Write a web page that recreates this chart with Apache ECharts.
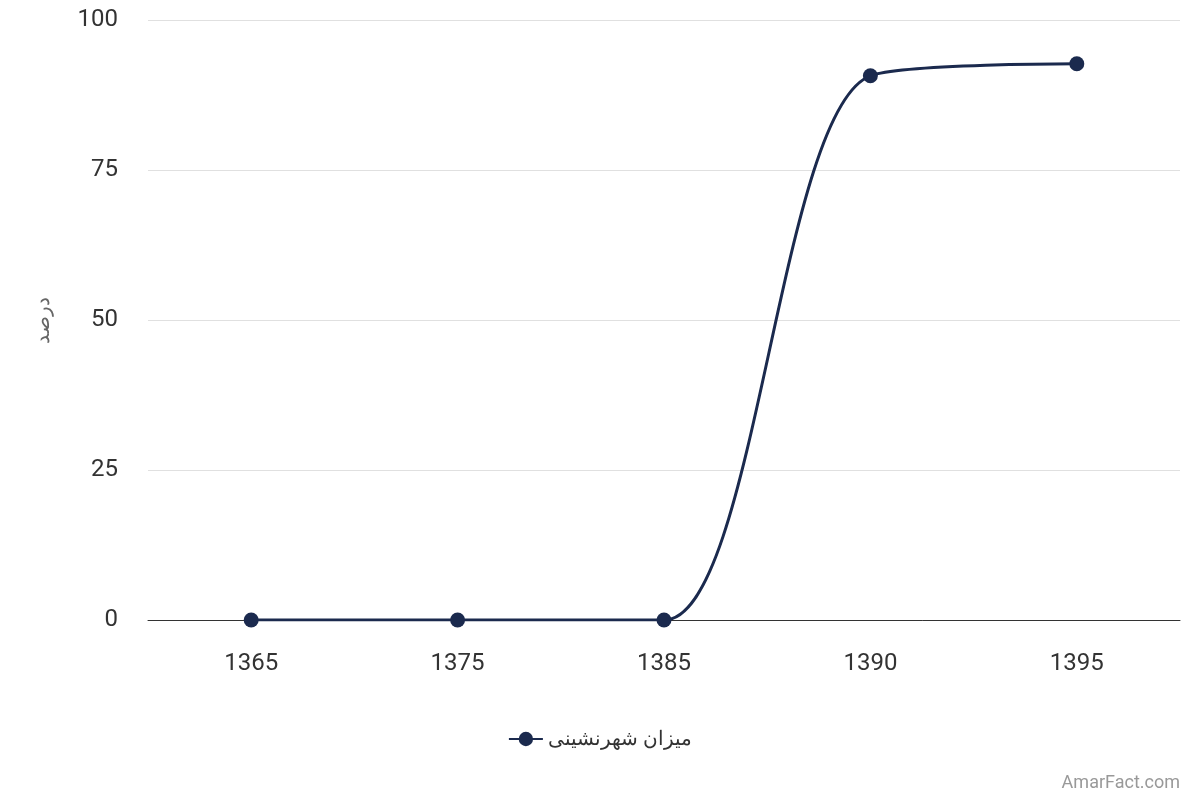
<!DOCTYPE html>
<html><head><meta charset="utf-8">
<script src="https://cdn.jsdelivr.net/npm/echarts@6/dist/echarts.min.js"></script>
<style>html,body{margin:0;padding:0;background:#fff}#c{width:1200px;height:800px}</style>
</head><body><div id="c"></div>
<script>
const categories = ['1365','1375','1385','1390','1395'];
const values = [0, 0, 0, 90.7, 92.7];
const yTicks = [0, 25, 50, 75, 100];
const seriesName = 'میزان شهرنشینی';
const chart = echarts.init(document.getElementById('c'));
chart.setOption({
  animation:false,
  textStyle:{fontFamily:'Roboto, "Noto Sans", sans-serif'},
  grid:{left:148,right:20,top:20,bottom:180},
  graphic:[{type:'text',right:20,bottom:8,style:{text:'AmarFact.com',fill:'#999',fontSize:18,fontFamily:'Roboto'}}],
  legend:{bottom:46,left:'center',itemWidth:34,itemHeight:18,
    textStyle:{fontSize:20,color:'#333',fontFamily:'"Noto Sans", sans-serif'},data:[seriesName]},
  xAxis:{type:'category',data:categories,boundaryGap:true,
    axisLine:{lineStyle:{color:'#333'}},axisTick:{show:false},
    axisLabel:{fontSize:24,color:'#333',margin:32}},
  yAxis:{type:'value',min:yTicks[0],max:yTicks[yTicks.length-1],interval:25,
    name:'درصد',nameLocation:'middle',nameGap:95,nameRotate:90,
    nameTextStyle:{fontSize:20,color:'#666',fontFamily:'"Noto Sans", sans-serif'},
    axisLabel:{fontSize:24,color:'#333',margin:30},
    splitLine:{lineStyle:{color:'#e0e0e0'}}},
  series:[{name:seriesName,type:'line',data:values,smooth:0.3,
    symbol:'circle',symbolSize:15,
    lineStyle:{color:'#1b2a4e',width:3},itemStyle:{color:'#1b2a4e'}}]
});
</script></body></html>
